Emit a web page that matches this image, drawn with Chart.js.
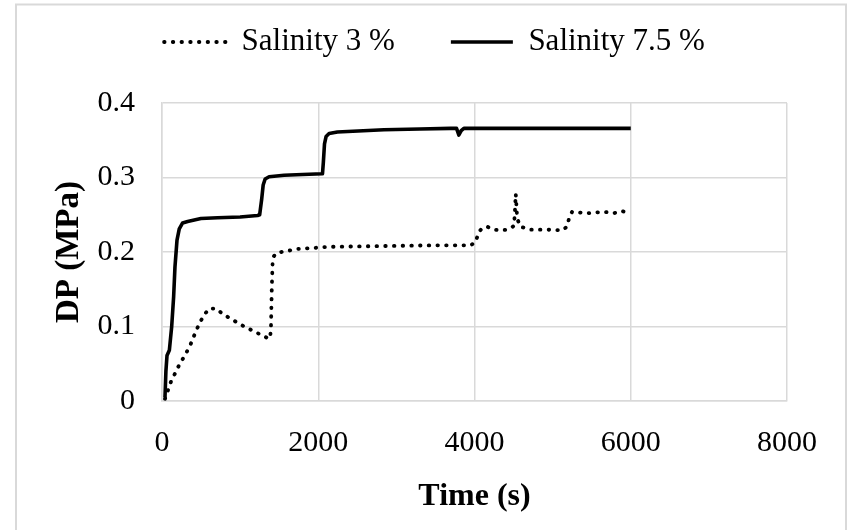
<!DOCTYPE html>
<html><head><meta charset="utf-8">
<script src="https://cdn.jsdelivr.net/npm/chart.js@4/dist/chart.umd.min.js"></script>
<style>html,body{margin:0;padding:0;background:#fff;}#wrap{width:847px;height:530px;position:relative;}</style>
</head><body><div id="wrap"><canvas id="c" width="847" height="530"></canvas></div>
<script>
const seriesNames = ['Salinity 3 %', 'Salinity 7.5 %'];

const time3 = [38, 115, 209, 307, 362, 443, 533, 605, 690, 776, 869, 1052, 1244, 1340, 1384, 1395, 1405, 1415, 1430, 1457, 1530, 1734, 2160, 2841, 3500, 3949, 4013, 4055, 4100, 4162, 4247, 4332, 4418, 4490, 4505, 4515, 4528, 4546, 4588, 4716, 4929, 5121, 5185, 5210, 5249, 5441, 5654, 5781, 5888, 5973];
const dp3 = [0.003, 0.026, 0.046, 0.064, 0.075, 0.096, 0.115, 0.124, 0.124, 0.117, 0.111, 0.100, 0.090, 0.085, 0.084, 0.100, 0.150, 0.184, 0.194, 0.198, 0.200, 0.204, 0.207, 0.208, 0.209, 0.209, 0.213, 0.227, 0.232, 0.234, 0.230, 0.229, 0.230, 0.234, 0.235, 0.250, 0.278, 0.245, 0.234, 0.230, 0.230, 0.229, 0.234, 0.245, 0.254, 0.252, 0.254, 0.252, 0.255, 0.252];

const time75 = [38, 50, 64, 94, 110, 124, 149, 166, 192, 221, 264, 328, 498, 712, 1000, 1223, 1250, 1275, 1295, 1320, 1371, 1563, 1800, 2054, 2065, 2080, 2100, 2139, 2245, 2841, 3300, 3693, 3770, 3800, 3830, 3864, 4500, 5000, 6000];
const dp75 = [0.005, 0.040, 0.061, 0.068, 0.085, 0.100, 0.140, 0.180, 0.216, 0.231, 0.239, 0.241, 0.245, 0.246, 0.247, 0.249, 0.250, 0.270, 0.290, 0.298, 0.301, 0.303, 0.304, 0.305, 0.320, 0.345, 0.355, 0.359, 0.361, 0.364, 0.365, 0.366, 0.366, 0.357, 0.363, 0.366, 0.366, 0.366, 0.366];

const xTicks = [0, 2000, 4000, 6000, 8000];
const yTicks = [0, 0.1, 0.2, 0.3, 0.4];
const xTitle = 'Time (s)';
const yTitle = 'DP (MPa)';

const FONT = 'Liberation Serif';
const GRID = '#d9d9d9';

const pts = (xs, ys) => xs.map((x, i) => ({x: x, y: ys[i]}));

const framePlugin = {
  id: 'frame',
  beforeDraw(chart) {
    const ctx = chart.ctx;
    ctx.save();
    ctx.fillStyle = '#fff';
    ctx.fillRect(0, 0, chart.width, chart.height);
    ctx.strokeStyle = GRID;
    ctx.lineWidth = 2;
    ctx.strokeRect(16, 4.5, 830, 600);
    ctx.restore();
  }
};

new Chart(document.getElementById('c'), {
  type: 'scatter',
  data: {
    datasets: [
      {
        label: seriesNames[0],
        data: pts(time3, dp3),
        showLine: true,
        borderColor: '#000',
        backgroundColor: '#000',
        borderWidth: 3.8,
        borderDash: [0.5, 8.2],
        borderCapStyle: 'round',
        pointRadius: 0,
        pointHoverRadius: 0,
        pointStyle: 'line',
        tension: 0
      },
      {
        label: seriesNames[1],
        data: pts(time75, dp75),
        showLine: true,
        borderColor: '#000',
        backgroundColor: '#000',
        borderWidth: 3.6,
        borderCapStyle: 'butt',
        borderJoinStyle: 'round',
        pointRadius: 0,
        pointHoverRadius: 0,
        pointStyle: 'line',
        tension: 0
      }
    ]
  },
  options: {
    responsive: false,
    animation: false,
    devicePixelRatio: 1,
    layout: {padding: {top: -29.5, left: 15, right: -7, bottom: 0}},
    plugins: {
      legend: {
        display: true,
        position: 'top',
        labels: {
          usePointStyle: true,
          pointStyleWidth: 62,
          padding: 56,
          color: '#000',
          font: {family: FONT, size: 31},
          generateLabels: chart => {
            const items = Chart.defaults.plugins.legend.labels.generateLabels(chart);
            items.forEach(it => {
              const ds = chart.data.datasets[it.datasetIndex];
              it.lineDash = ds.borderDash || [];
              it.lineWidth = ds.borderWidth;
              it.lineCap = ds.borderCapStyle;
              it.strokeStyle = ds.borderColor;
              it.pointStyle = 'line';
            });
            return items;
          }
        }
      },
      tooltip: {enabled: false}
    },
    scales: {
      x: {
        type: 'linear',
        position: 'bottom',
        min: 0, max: 8000,
        afterBuildTicks: s => { s.ticks = xTicks.map(v => ({value: v})); },
        afterFit: s => { s.height = 129; },
        ticks: {
          callback: v => String(v),
          color: '#000',
          font: {family: FONT, size: 30},
          padding: 24,
          maxRotation: 0,
          autoSkip: false
        },
        grid: {color: GRID, lineWidth: 1.5, drawTicks: false},
        border: {color: GRID, width: 1.5},
        title: {display: true, text: xTitle, color: '#000', font: {family: FONT, size: 32, weight: 'bold'}, padding: {top: 0, bottom: 14}}
      },
      y: {
        type: 'linear',
        position: 'left',
        min: 0, max: 0.4,
        afterBuildTicks: s => { s.ticks = yTicks.map(v => ({value: v})); },
        afterFit: s => { s.width = 147; },
        ticks: {
          callback: v => String(v),
          color: '#000',
          font: {family: FONT, size: 30},
          padding: 27
        },
        grid: {color: GRID, lineWidth: 1.5, drawTicks: false},
        border: {color: GRID, width: 1.5},
        title: {display: true, text: yTitle, color: '#000', font: {family: FONT, size: 33, weight: 'bold'}, padding: {top: 35, bottom: 0}}
      },
      xTop: {
        type: 'linear',
        position: 'top',
        display: true,
        grid: {display: false, drawTicks: false},
        border: {display: false},
        ticks: {display: false},
        afterFit: s => { s.height = 35.5; }
      },
      yRight: {
        type: 'linear',
        position: 'right',
        display: true,
        grid: {display: false, drawTicks: false},
        border: {display: false},
        ticks: {display: false},
        afterFit: s => { s.width = 67; }
      }
    }
  },
  plugins: [framePlugin]
});
</script>
</body></html>
